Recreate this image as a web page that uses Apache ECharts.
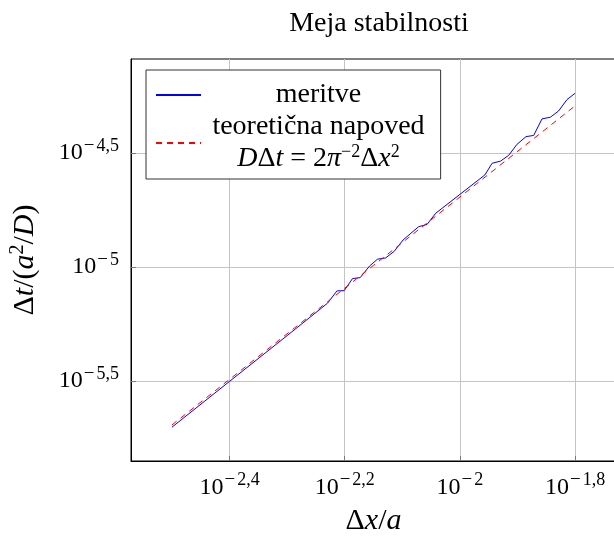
<!DOCTYPE html>
<html><head><meta charset="utf-8">
<script src="https://cdn.jsdelivr.net/npm/echarts@6/dist/echarts.min.js"></script>
<style>html,body{margin:0;padding:0;background:#fff}#c{width:614px;height:536px}</style>
</head><body><div id="c"></div>
<script>
// Measured data (Δx/a, Δt/(a²/D))
const dxMeritve = [0.003162, 0.003981, 0.005012, 0.005891, 0.006117, 0.006297, 0.006509, 0.006711, 0.006971, 0.007192, 0.007430, 0.007686, 0.007968, 0.008475, 0.008768, 0.009078, 0.011049, 0.011374, 0.011762, 0.012157, 0.012567, 0.013026, 0.013431, 0.013883, 0.014357, 0.014838, 0.015339, 0.015849];
const dtMeritve = [1.9815e-6, 3.148e-6, 5.000e-6, 6.934e-6, 7.852e-6, 7.870e-6, 8.892e-6, 8.974e-6, 1.0102e-5, 1.0814e-5, 1.0952e-5, 1.1695e-5, 1.3133e-5, 1.5006e-5, 1.5359e-5, 1.7199e-5, 2.5322e-5, 2.8497e-5, 2.9107e-5, 3.0903e-5, 3.4528e-5, 3.7282e-5, 3.7739e-5, 4.4587e-5, 4.5364e-5, 4.8330e-5, 5.4163e-5, 5.7774e-5];
// Theoretical prediction
const dxTeorija = [0.003162, 0.007079, 0.015849];
const dtTeorija = [2.027e-6, 1.0158e-5, 5.090e-5];
// Tick values
const xTicks = [0.003981, 0.006310, 0.01, 0.015849];
const yTicks = [3.1623e-6, 1e-5, 3.1623e-5];
const xRange = [0.002685, 0.018664];
const yRange = [1.409e-6, 8.166e-5];

const SERIF = "'Liberation Serif', 'DejaVu Serif', serif";

function expLabel(v) {
  const e = Math.round(Math.log10(v) * 10) / 10;
  const s = String(Math.abs(e)).replace('.', ',');
  return '{b|10}{m|\u2212}{s|' + s + '}';
}
const tickRich = {
  b: { fontFamily: SERIF, fontSize: 24, color: '#000' },
  m: { fontFamily: SERIF, fontSize: 19, color: '#000', padding: [0, 2, 14, 1] },
  s: { fontFamily: SERIF, fontSize: 18, color: '#000', padding: [0, 0, 14, 0] }
};

const chart = echarts.init(document.getElementById('c'), null, { renderer: 'canvas' });
chart.setOption({
  animation: false,
  backgroundColor: '#fff',
  title: {
    text: 'Meja stabilnosti',
    left: 374, top: 5, textAlign: 'center',
    textStyle: { fontFamily: SERIF, fontSize: 28, fontWeight: 'normal', color: '#000' }
  },
  grid: { left: 131, top: 59, width: 485, height: 402, show: true, borderColor: '#000', borderWidth: 1,
    containLabel: false, outerBoundsMode: 'none' },
  xAxis: {
    type: 'log', logBase: 10, min: xRange[0], max: xRange[1],
    name: '{r|Δ}{i|x}{r|/}{i|a}', nameLocation: 'middle', nameGap: 45,
    nameTextStyle: { rich: {
      r: { fontFamily: SERIF, fontSize: 30, color: '#000' },
      i: { fontFamily: SERIF, fontSize: 30, fontStyle: 'italic', color: '#000' } } },
    axisLine: { show: true, lineStyle: { color: '#000', width: 1 } },
    axisTick: { show: true, inside: true, length: 5, customValues: xTicks, lineStyle: { color: '#777' } },
    axisLabel: { customValues: xTicks, margin: 10, formatter: expLabel, rich: tickRich },
    splitLine: { show: true, lineStyle: { color: '#c4c4c4', width: 1 } },
    minorTick: { show: false }
  },
  yAxis: {
    type: 'log', logBase: 10, min: yRange[0], max: yRange[1],
    name: '{r|Δ}{i|t}{r|/(}{i|a}{s|2}{r|/}{i|D}{r|)}', nameLocation: 'middle', nameGap: 88,
    nameTextStyle: { rich: {
      r: { fontFamily: SERIF, fontSize: 30, color: '#000' },
      i: { fontFamily: SERIF, fontSize: 30, fontStyle: 'italic', color: '#000' },
      s: { fontFamily: SERIF, fontSize: 20, color: '#000', padding: [0, 0, 15, 0] } } },
    axisLine: { show: true, lineStyle: { color: '#000', width: 1 } },
    axisTick: { show: true, inside: true, length: 5, customValues: yTicks, lineStyle: { color: '#777' } },
    axisLabel: { customValues: yTicks, margin: 12, formatter: expLabel, rich: tickRich },
    splitLine: { show: true, lineStyle: { color: '#c4c4c4', width: 1 } }
  },
  legend: {
    left: 146, top: 70, orient: 'vertical',
    padding: [11, 16, 6, 9], itemGap: 4, itemWidth: 45, itemHeight: 14,
    backgroundColor: '#fff', borderColor: '#333', borderWidth: 1, borderRadius: 0,
    itemStyle: { opacity: 0 },
    data: ['meritve', 'teoretična napoved'],
    formatter: function (name) {
      if (name === 'meritve') return '{c|meritve}';
      return '{c|teoretična napoved}\n{ci|D}{c|Δ}{ci|t}{c| = 2}{ci|π}{cs|\u22122}{c|Δ}{ci|x}{cs|2}';
    },
    textStyle: {
      width: 225, fontFamily: SERIF, fontSize: 28, color: '#000',
      rich: {
        c: { fontFamily: SERIF, fontSize: 28, lineHeight: 32, align: 'center', color: '#000' },
        ci: { fontFamily: SERIF, fontSize: 28, lineHeight: 32, fontStyle: 'italic', align: 'center', color: '#000' },
        cs: { fontFamily: SERIF, fontSize: 18, align: 'center', color: '#000', padding: [0, 0, 13, 0] }
      }
    }
  },
  series: [
    {
      name: 'meritve', type: 'line', symbol: 'none', smooth: false,
      data: dxMeritve.map((x, i) => [x, dtMeritve[i]]),
      lineStyle: { color: '#0000ff', width: 1 }, itemStyle: { color: '#0000ff' }
    },
    {
      name: 'teoretična napoved', type: 'line', symbol: 'none', smooth: false,
      data: dxTeorija.map((x, i) => [x, dtTeorija[i]]),
      lineStyle: { color: '#ff0000', width: 1, type: [6, 5] }, itemStyle: { color: '#ff0000' }
    }
  ]
});
</script></body></html>
